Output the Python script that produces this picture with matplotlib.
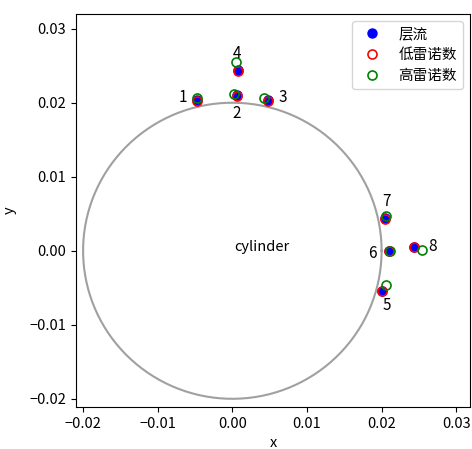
import numpy as np
import matplotlib
matplotlib.use("Agg")
import matplotlib.pyplot as plt

plt.rcParams['font.family'] = ['Noto Sans CJK SC', 'DejaVu Sans']
plt.rcParams['axes.unicode_minus'] = True

# separation point coordinates (m)
point_ids = ["1", "2", "3", "4", "5", "6", "7", "8"]
laminar_x = [-0.0048, 0.0006, 0.0048, 0.0008, 0.0201, 0.0210, 0.0204, 0.0243]
laminar_y = [0.0204, 0.0210, 0.0204, 0.0244, -0.0054, 0.0000, 0.0044, 0.0005]
low_re_x = [-0.0048, 0.0006, 0.0048, 0.0008, 0.0201, 0.0210, 0.0204, 0.0243]
low_re_y = [0.0203, 0.0209, 0.0203, 0.0243, -0.0054, 0.0000, 0.0043, 0.0005]
high_re_x = [-0.0048, 0.0002, 0.0043, 0.0005, 0.0206, 0.0211, 0.0206, 0.0254]
high_re_y = [0.0206, 0.0212, 0.0207, 0.0255, -0.0046, 0.0000, 0.0047, 0.0001]

# text positions for the point numbers
label_x = [-0.0066, 0.0006, 0.0068, 0.0006, 0.0207, 0.0187, 0.0207, 0.0268]
label_y = [0.0207, 0.0186, 0.0207, 0.0266, -0.0074, -0.0004, 0.0066, 0.0006]

radius = 0.02

fig = plt.figure(figsize=(4.72, 4.49), dpi=100)
ax = fig.add_axes([0.161, 0.094, 0.835, 0.8755])

theta = np.linspace(0, 2 * np.pi, 400)
ax.plot(radius * np.cos(theta), radius * np.sin(theta), color="#a0a0a0", lw=1.5)

ax.plot(laminar_x, laminar_y, "o", color="blue", ms=6.5, ls="none", label="层流")
ax.plot(low_re_x, low_re_y, "o", mfc="none", mec="red", mew=1.2, ms=6.5,
        ls="none", label="低雷诺数")
ax.plot(high_re_x, high_re_y, "o", mfc="none", mec="green", mew=1.2, ms=6.5,
        ls="none", label="高雷诺数")

for t, x, y in zip(point_ids, label_x, label_y):
    ax.text(x, y, t, fontsize=11, ha="center", va="center")

ax.text(0.004, 0.0005, "cylinder", fontsize=10.5, ha="center", va="center")

ax.set_xlim(-0.02095, 0.03186)
ax.set_ylim(-0.02108, 0.03203)
ax.set_xticks([-0.02, -0.01, 0.0, 0.01, 0.02, 0.03])
ax.set_yticks([-0.02, -0.01, 0.0, 0.01, 0.02, 0.03])
ax.tick_params(labelsize=10.5)
ax.set_xlabel("x", fontsize=10.5, labelpad=4)
ax.set_ylabel("y", fontsize=10.5, labelpad=9)
ax.legend(loc="upper right", fontsize=10.5)

fig.savefig("out.png", dpi=100)
